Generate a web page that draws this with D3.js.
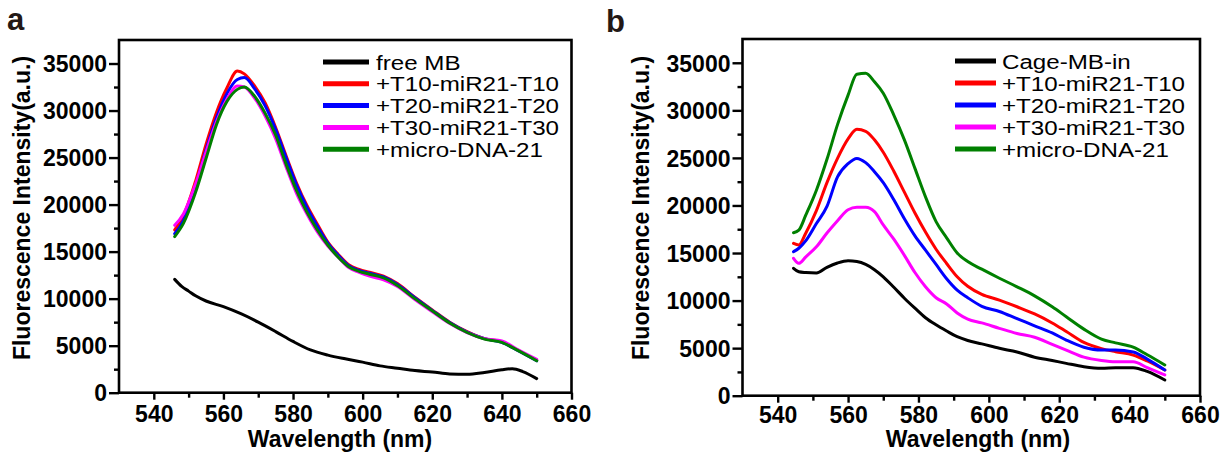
<!DOCTYPE html>
<html>
<head>
<meta charset="utf-8">
<script src="https://cdn.jsdelivr.net/npm/d3@7"></script>
<style>
  html, body { margin: 0; padding: 0; background: #fff; }
  svg { display: block; }
  text { font-family: "Liberation Sans", Arial, sans-serif; }
</style>
</head>
<body>
<svg id="chart" width="1224" height="454"></svg>
<script>
// ---------- data ----------
const xTicks = [540, 560, 580, 600, 620, 640, 660];
const xMinorTicks = [550, 570, 590, 610, 630, 650];
const yTicks = [0, 5000, 10000, 15000, 20000, 25000, 30000, 35000];
const yMinorTicks = [2500, 7500, 12500, 17500, 22500, 27500, 32500];

// panel a
const wlA = [546, 548.5, 552, 555, 558, 561, 564, 566, 569, 572, 575, 578, 581, 584, 587, 590, 593, 596, 599, 602, 606, 610, 615, 620, 625, 630, 635, 640, 644, 650];
const aRed     = [17300, 18800, 22500, 26400, 29800, 32400, 34200, 33900, 32600, 30800, 28200, 25200, 22300, 19900, 17900, 16000, 14700, 13600, 13100, 12800, 12400, 11600, 10150, 8800, 7500, 6500, 5750, 5400, 4650, 3450];
const aBlue    = [16900, 18300, 22000, 25800, 29200, 31800, 33300, 33500, 32300, 30500, 28000, 25000, 22100, 19700, 17700, 15900, 14600, 13500, 13000, 12700, 12300, 11500, 10100, 8750, 7450, 6450, 5750, 5350, 4600, 3400];
const aMagenta = [17800, 19000, 22200, 25600, 28800, 31200, 32600, 32500, 31300, 29400, 27000, 24000, 21200, 19000, 17100, 15600, 14400, 13300, 12800, 12400, 12000, 11300, 9900, 8600, 7350, 6400, 5750, 5500, 4700, 3550];
const aGreen   = [16600, 18000, 21300, 24900, 28500, 30950, 32250, 32500, 31500, 29700, 27400, 24300, 21500, 19200, 17300, 15700, 14400, 13400, 12900, 12600, 12200, 11400, 10000, 8700, 7400, 6400, 5700, 5350, 4600, 3400];
const wlAblack = [546, 548, 550, 552, 555, 560, 565, 570, 575, 580, 585, 590, 595, 600, 605, 610, 615, 620, 625, 630, 635, 640, 643, 646, 650];
const aBlack   = [12050, 11300, 10800, 10300, 9750, 9150, 8400, 7500, 6500, 5450, 4550, 4000, 3600, 3250, 2850, 2600, 2350, 2200, 2000, 1950, 2150, 2450, 2550, 2250, 1500];
const namesA = ["free MB", "+T10-miR21-T10", "+T20-miR21-T20", "+T30-miR21-T30", "+micro-DNA-21"];

// panel b
const wlB = [544.5, 546, 548, 551, 554, 557, 560, 562.5, 565, 567.5, 570, 573, 576, 579, 582, 585, 588, 591, 594, 598, 603, 608, 613, 618, 622, 627, 632, 636, 641, 645, 650];
const bBlack   = [13390, 13030, 12950, 12900, 13500, 13950, 14180, 14100, 13800, 13250, 12500, 11400, 10250, 9200, 8200, 7450, 6800, 6200, 5800, 5450, 4980, 4600, 4050, 3700, 3400, 3050, 2880, 2940, 2950, 2550, 1650];
const bRed     = [16020, 15850, 17100, 19450, 22400, 24950, 27000, 28000, 27800, 26900, 25600, 23600, 21400, 19200, 17200, 15400, 13900, 12500, 11500, 10650, 10050, 9350, 8600, 7650, 6750, 5600, 4950, 4620, 4270, 3650, 2700];
const bBlue    = [15140, 15500, 16300, 18100, 19900, 23000, 24400, 24950, 24500, 23550, 22400, 20600, 18600, 16800, 15300, 13800, 12300, 11100, 10300, 9400, 8850, 8100, 7350, 6600, 5850, 5100, 4800, 4800, 4600, 3850, 2700];
const bMagenta = [14440, 13920, 14600, 15650, 17100, 18400, 19550, 19800, 19800, 19350, 17950, 16450, 14750, 12950, 11450, 10300, 9650, 8700, 8050, 7650, 7080, 6540, 6150, 5400, 4800, 4050, 3700, 3570, 3570, 2950, 2180];
const bGreen   = [17130, 17400, 19000, 21600, 24850, 28500, 31600, 33800, 33900, 33000, 31800, 29500, 26900, 23900, 20900, 18300, 16600, 15000, 14100, 13300, 12350, 11450, 10500, 9350, 8300, 7000, 5950, 5550, 5100, 4300, 3230];
const namesB = ["Cage-MB-in", "+T10-miR21-T10", "+T20-miR21-T20", "+T30-miR21-T30", "+micro-DNA-21"];

const colors = ["#000000", "#ff0000", "#0000ff", "#ff00ff", "#008000"];

// ---------- drawing ----------
const svg = d3.select("#chart");
const FONT_B = "bold";

function panel(cfg) {
  const g = svg.append("g");
  const x = d3.scaleLinear().domain([530, 660]).range(cfg.xr);
  const y = d3.scaleLinear().domain([0, 37500]).range(cfg.yr);

  const line = d3.line().x(d => x(d[0])).y(d => y(d[1])).curve(d3.curveMonotoneX);
  cfg.series.forEach((s, i) => {
    const pts = s.wl.map((w, k) => [w, s.v[k]]);
    g.append("path").attr("d", line(pts)).attr("fill", "none")
      .attr("stroke", colors[i]).attr("stroke-width", 3)
      .attr("stroke-linejoin", "round").attr("stroke-linecap", "round");
  });

  // frame
  g.append("rect").attr("x", cfg.xr[0]).attr("y", cfg.yr[1])
    .attr("width", cfg.xr[1] - cfg.xr[0]).attr("height", cfg.yr[0] - cfg.yr[1])
    .attr("fill", "none").attr("stroke", "#000").attr("stroke-width", 2.6);

  // axes
  const ax = g.append("g").attr("transform", `translate(0,${cfg.yr[0]})`)
    .call(d3.axisBottom(x).tickValues(xTicks).tickSize(7).tickSizeOuter(0).tickPadding(cfg.xPad).tickFormat(d3.format("d")));
  const axm = g.append("g").attr("transform", `translate(0,${cfg.yr[0]})`)
    .call(d3.axisBottom(x).tickValues(xMinorTicks).tickSize(5).tickSizeOuter(0).tickFormat(""));
  const ay = g.append("g").attr("transform", `translate(${cfg.xr[0]},0)`)
    .call(d3.axisLeft(y).tickValues(yTicks).tickSize(10).tickSizeOuter(0).tickPadding(2).tickFormat(d3.format("d")));
  const aym = g.append("g").attr("transform", `translate(${cfg.xr[0]},0)`)
    .call(d3.axisLeft(y).tickValues(yMinorTicks).tickSize(5).tickSizeOuter(0).tickFormat(""));
  [ax, axm, ay, aym].forEach(a => {
    a.select(".domain").remove();
    a.selectAll(".tick line").attr("stroke", "#000").attr("stroke-width", 2.4);
    a.selectAll("text").attr("font-size", 23).attr("font-weight", FONT_B).attr("fill", "#000")
      .attr("font-family", "'Liberation Sans', Arial, sans-serif");
  });
  ay.selectAll("text").attr("dy", "0.36em");

  // axis titles
  g.append("text").attr("transform", `translate(${cfg.ylx},${cfg.yly}) rotate(-90)`)
    .attr("text-anchor", "middle").attr("font-size", 23).attr("font-weight", FONT_B)
    .text("Fluorescence Intensity(a.u.)");
  g.append("text").attr("x", cfg.xlx).attr("y", cfg.xly)
    .attr("text-anchor", "middle").attr("font-size", 23).attr("font-weight", FONT_B)
    .text("Wavelength (nm)");

  // panel letter
  g.append("text").attr("x", cfg.lx).attr("y", cfg.ly)
    .attr("font-size", 31).attr("font-weight", FONT_B).attr("fill", "#231815")
    .text(cfg.letter);

  // legend
  cfg.names.forEach((n, i) => {
    const yy = cfg.legY + i * cfg.legStep;
    g.append("line").attr("x1", cfg.legX1).attr("x2", cfg.legX2).attr("y1", yy).attr("y2", yy)
      .attr("stroke", colors[i]).attr("stroke-width", 5);
    g.append("text").attr("transform", `translate(${cfg.legTx},${yy + 7.5}) scale(1.15,1)`)
      .attr("font-size", 21).attr("fill", "#000").text(n);
  });
}

panel({
  letter: "a", lx: 7, ly: 30,
  xr: [119, 571.5], yr: [392.7, 40], xPad: 6,
  ylx: 30, yly: 208, xlx: 340, xly: 447,
  legX1: 323, legX2: 369, legTx: 376, legY: 62, legStep: 21.8,
  names: namesA,
  series: [
    { wl: wlAblack, v: aBlack },
    { wl: wlA, v: aRed },
    { wl: wlA, v: aBlue },
    { wl: wlA, v: aMagenta },
    { wl: wlA, v: aGreen }
  ]
});

panel({
  letter: "b", lx: 606, ly: 32,
  xr: [742.5, 1200], yr: [395.7, 39], xPad: 4,
  ylx: 649, yly: 208, xlx: 978, xly: 447,
  legX1: 955, legX2: 996, legTx: 1002, legY: 61, legStep: 22,
  names: namesB,
  series: [
    { wl: wlB, v: bBlack },
    { wl: wlB, v: bRed },
    { wl: wlB, v: bBlue },
    { wl: wlB, v: bMagenta },
    { wl: wlB, v: bGreen }
  ]
});
</script>
</body>
</html>
